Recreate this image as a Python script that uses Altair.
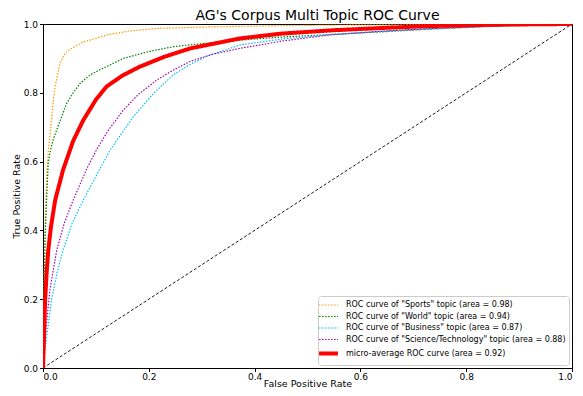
import altair as alt
import pandas as pd

series_names = [
    'ROC curve of "Sports" topic (area = 0.98)',
    'ROC curve of "World" topic (area = 0.94)',
    'ROC curve of "Business" topic (area = 0.87)',
    'ROC curve of "Science/Technology" topic (area = 0.88)',
    'micro-average ROC curve (area = 0.92)',
]
colors = ["#FF9900", "#008000", "#00BFFF", "#A000B0", "#FF0000"]

sports_fpr = [0, 0.001, 0.002, 0.004, 0.007, 0.010, 0.013, 0.016, 0.019, 0.023, 0.032, 0.042, 0.051, 0.076, 0.089, 0.12, 0.16, 0.215, 0.30, 0.40, 0.55, 0.70, 0.85, 1.0]
sports_tpr = [0, 0.12, 0.25, 0.40, 0.56, 0.63, 0.672, 0.72, 0.77, 0.818, 0.886, 0.916, 0.926, 0.948, 0.953, 0.968, 0.979, 0.987, 0.991, 0.994, 0.997, 0.998, 0.999, 1.0]

world_fpr = [0, 0.001, 0.002, 0.004, 0.007, 0.010, 0.013, 0.019, 0.029, 0.045, 0.057, 0.07, 0.089, 0.101, 0.152, 0.20, 0.246, 0.30, 0.372, 0.45, 0.55, 0.65, 0.73, 0.85, 0.93, 1.0]
world_tpr = [0, 0.10, 0.22, 0.38, 0.50, 0.595, 0.625, 0.663, 0.705, 0.77, 0.80, 0.827, 0.852, 0.862, 0.90, 0.92, 0.934, 0.943, 0.953, 0.962, 0.970, 0.978, 0.985, 0.993, 0.997, 1.0]

business_fpr = [0, 0.003, 0.007, 0.016, 0.027, 0.038, 0.055, 0.076, 0.108, 0.127, 0.15, 0.171, 0.21, 0.246, 0.275, 0.309, 0.372, 0.45, 0.54, 0.65, 0.75, 0.85, 0.93, 1.0]
business_tpr = [0, 0.04, 0.091, 0.198, 0.28, 0.343, 0.42, 0.488, 0.58, 0.634, 0.685, 0.731, 0.80, 0.852, 0.88, 0.906, 0.939, 0.956, 0.969, 0.980, 0.988, 0.994, 0.998, 1.0]

scitech_fpr = [0, 0.003, 0.006, 0.013, 0.026, 0.04, 0.057, 0.083, 0.101, 0.123, 0.152, 0.18, 0.215, 0.245, 0.278, 0.32, 0.372, 0.45, 0.54, 0.65, 0.75, 0.85, 0.93, 1.0]
scitech_tpr = [0, 0.06, 0.12, 0.227, 0.343, 0.42, 0.488, 0.58, 0.634, 0.69, 0.75, 0.795, 0.837, 0.865, 0.891, 0.912, 0.929, 0.950, 0.968, 0.980, 0.988, 0.994, 0.998, 1.0]

micro_fpr = [0, 0.002, 0.004, 0.007, 0.010, 0.015, 0.023, 0.038, 0.057, 0.076, 0.10, 0.12, 0.15, 0.183, 0.23, 0.278, 0.372, 0.45, 0.55, 0.65, 0.73, 0.85, 1.0]
micro_tpr = [0, 0.10, 0.198, 0.28, 0.343, 0.41, 0.488, 0.576, 0.66, 0.72, 0.78, 0.818, 0.85, 0.876, 0.905, 0.929, 0.958, 0.972, 0.982, 0.989, 0.994, 0.998, 1.0]

diag_x = [0.0, 1.0]
diag_y = [0.0, 1.0]

rows = []
for name, fx, ty in zip(series_names,
                        [sports_fpr, world_fpr, business_fpr, scitech_fpr, micro_fpr],
                        [sports_tpr, world_tpr, business_tpr, scitech_tpr, micro_tpr]):
    for i, (a, b) in enumerate(zip(fx, ty)):
        rows.append({"series": name, "fpr": a, "tpr": b, "order": i})
df = pd.DataFrame(rows)
diag = pd.DataFrame({"fpr": diag_x, "tpr": diag_y})

xscale = alt.Scale(domain=[0, 1], nice=False, zero=False)
yscale = alt.Scale(domain=[0, 1], nice=False, zero=False)
ticks = [0, 0.2, 0.4, 0.6, 0.8, 1.0]

xaxis = alt.Axis(title="False Positive Rate", values=ticks, format=".1f", grid=False,
                 tickSize=3.5, labelPadding=0.5, titleY=18, titleBaseline="alphabetic")
yaxis = alt.Axis(title="True Positive Rate", values=ticks, format=".1f", grid=False,
                 tickSize=3.5, labelPadding=2, titlePadding=2)

diag_layer = alt.Chart(diag).mark_line(color="black", strokeWidth=0.9, strokeDash=[3, 2]).encode(
    x=alt.X("fpr:Q", scale=xscale, axis=xaxis),
    y=alt.Y("tpr:Q", scale=yscale, axis=yaxis),
)

leg = alt.Legend(title=None, orient="bottom-right", offset=3,
                 symbolType="M-1.8,0H1.8", symbolSize=110, labelLimit=400,
                 labelFontSize=8, labelColor="black", labelOffset=10,
                 strokeColor="#cccccc", fillColor="white",
                 padding=3, cornerRadius=3, rowPadding=1.5)

curves = alt.Chart(df).mark_line(clip=True).encode(
    x=alt.X("fpr:Q", scale=xscale, axis=xaxis),
    y=alt.Y("tpr:Q", scale=yscale, axis=yaxis),
    order="order:Q",
    color=alt.Color("series:N", sort=series_names,
                    scale=alt.Scale(domain=series_names, range=colors),
                    legend=leg),
    strokeDash=alt.StrokeDash("series:N", sort=series_names,
                              scale=alt.Scale(domain=series_names,
                                              range=[[1.5, 1.5], [1.5, 1.5], [1.5, 1.5], [1.5, 1.5], [1, 0]]),
                              legend=leg),
    strokeWidth=alt.StrokeWidth("series:O", sort=series_names,
                                scale=alt.Scale(type="ordinal", domain=series_names,
                                                range=[1.2, 1.2, 1.2, 1.2, 4]),
                                legend=leg),
)

chart = alt.layer(diag_layer, curves).properties(
    width=529, height=344,
    title=alt.Title("AG's Corpus Multi Topic ROC Curve", fontSize=14, fontWeight="normal",
                    font="DejaVu Sans", color="black", offset=-3, dx=10),
    autosize=alt.AutoSizeParams(type="none"),
    padding={"left": 35, "top": 16, "right": 3, "bottom": 20},
).configure(font="DejaVu Sans").configure_view(
    stroke="black", strokeWidth=1
).configure_axis(
    labelFont="DejaVu Sans", titleFont="DejaVu Sans", labelFontSize=9, titleFontSize=9.5,
    titleFontWeight="normal", labelColor="black", titleColor="black",
    domainColor="black", tickColor="black"
).configure_legend(labelFont="DejaVu Sans")

chart.save("out.html", embed_options={"renderer": "svg", "actions": False})
